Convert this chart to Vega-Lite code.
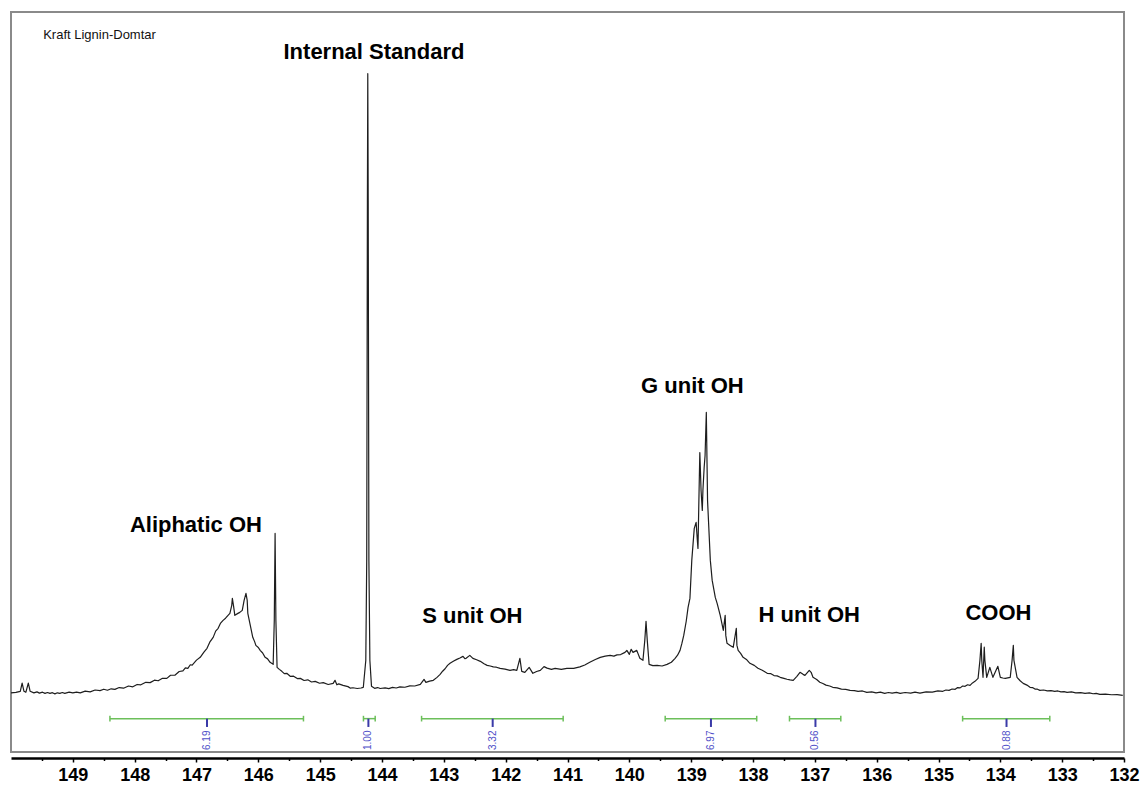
{
  "$schema": "https://vega.github.io/schema/vega-lite/v6.json",
  "width": 1113,
  "height": 740,
  "autosize": {"type": "none"},
  "padding": {"left": 11, "top": 12, "right": 18, "bottom": 35},
  "background": "white",
  "config": {
    "view": {"stroke": "#8a8a8a", "strokeWidth": 2},
    "axis": {"grid": false},
    "font": "Liberation Sans"
  },
  "datasets": {
    "spectrum": [
      {"ppm": 150.00, "i": -0.41}, {"ppm": 149.92, "i": -0.32}, {"ppm": 149.85, "i": -0.16}, {"ppm": 149.82, "i": 1.18},
      {"ppm": 149.79, "i": -0.16}, {"ppm": 149.76, "i": -0.32}, {"ppm": 149.72, "i": 1.18}, {"ppm": 149.69, "i": -0.16},
      {"ppm": 149.63, "i": -0.41}, {"ppm": 149.58, "i": -0.25}, {"ppm": 149.54, "i": -0.45}, {"ppm": 149.49, "i": -0.30},
      {"ppm": 149.45, "i": -0.49}, {"ppm": 149.41, "i": -0.35}, {"ppm": 149.37, "i": -0.50}, {"ppm": 149.33, "i": -0.38},
      {"ppm": 149.29, "i": -0.57}, {"ppm": 149.25, "i": -0.40}, {"ppm": 149.21, "i": -0.50}, {"ppm": 149.17, "i": -0.36},
      {"ppm": 149.13, "i": -0.49}, {"ppm": 149.06, "i": -0.30}, {"ppm": 149.00, "i": -0.42}, {"ppm": 148.94, "i": -0.28},
      {"ppm": 148.88, "i": -0.41}, {"ppm": 148.80, "i": -0.12}, {"ppm": 148.72, "i": -0.25}, {"ppm": 148.64, "i": 0.05},
      {"ppm": 148.56, "i": -0.05}, {"ppm": 148.50, "i": 0.18}, {"ppm": 148.44, "i": 0.02}, {"ppm": 148.38, "i": 0.25},
      {"ppm": 148.32, "i": 0.16}, {"ppm": 148.25, "i": 0.45}, {"ppm": 148.18, "i": 0.35}, {"ppm": 148.10, "i": 0.70},
      {"ppm": 148.03, "i": 0.57}, {"ppm": 147.96, "i": 0.95}, {"ppm": 147.90, "i": 0.90}, {"ppm": 147.82, "i": 1.30},
      {"ppm": 147.75, "i": 1.25}, {"ppm": 147.68, "i": 1.65}, {"ppm": 147.62, "i": 1.55}, {"ppm": 147.55, "i": 1.95},
      {"ppm": 147.48, "i": 1.94}, {"ppm": 147.42, "i": 2.45}, {"ppm": 147.35, "i": 2.45}, {"ppm": 147.28, "i": 3.05},
      {"ppm": 147.22, "i": 3.15}, {"ppm": 147.18, "i": 3.65}, {"ppm": 147.14, "i": 3.55}, {"ppm": 147.10, "i": 4.15},
      {"ppm": 147.07, "i": 4.10}, {"ppm": 147.00, "i": 4.90}, {"ppm": 146.94, "i": 5.35}, {"ppm": 146.88, "i": 6.20},
      {"ppm": 146.83, "i": 6.81}, {"ppm": 146.78, "i": 7.90}, {"ppm": 146.73, "i": 8.59}, {"ppm": 146.69, "i": 9.60},
      {"ppm": 146.65, "i": 10.05}, {"ppm": 146.61, "i": 10.90}, {"ppm": 146.57, "i": 11.35}, {"ppm": 146.53, "i": 11.70},
      {"ppm": 146.49, "i": 12.16}, {"ppm": 146.46, "i": 12.48}, {"ppm": 146.43, "i": 13.78}, {"ppm": 146.42, "i": 14.91},
      {"ppm": 146.40, "i": 13.61}, {"ppm": 146.38, "i": 12.16}, {"ppm": 146.33, "i": 12.48}, {"ppm": 146.30, "i": 12.64},
      {"ppm": 146.26, "i": 12.97}, {"ppm": 146.23, "i": 14.59}, {"ppm": 146.20, "i": 15.72}, {"ppm": 146.18, "i": 14.59},
      {"ppm": 146.17, "i": 12.48}, {"ppm": 146.13, "i": 10.53}, {"ppm": 146.09, "i": 8.59}, {"ppm": 146.06, "i": 7.90},
      {"ppm": 146.04, "i": 7.29}, {"ppm": 146.00, "i": 6.95}, {"ppm": 145.97, "i": 6.48}, {"ppm": 145.93, "i": 6.05},
      {"ppm": 145.89, "i": 5.35}, {"ppm": 145.85, "i": 5.10}, {"ppm": 145.81, "i": 4.54}, {"ppm": 145.76, "i": 4.21},
      {"ppm": 145.742, "i": 11.35}, {"ppm": 145.729, "i": 25.45}, {"ppm": 145.716, "i": 11.35}, {"ppm": 145.697, "i": 3.73},
      {"ppm": 145.66, "i": 3.40}, {"ppm": 145.62, "i": 3.08}, {"ppm": 145.58, "i": 2.70}, {"ppm": 145.54, "i": 2.76},
      {"ppm": 145.48, "i": 2.25}, {"ppm": 145.43, "i": 2.30}, {"ppm": 145.37, "i": 1.90}, {"ppm": 145.32, "i": 1.94},
      {"ppm": 145.26, "i": 1.60}, {"ppm": 145.20, "i": 1.70}, {"ppm": 145.14, "i": 1.35}, {"ppm": 145.08, "i": 1.46},
      {"ppm": 145.01, "i": 1.15}, {"ppm": 144.95, "i": 1.25}, {"ppm": 144.87, "i": 0.95}, {"ppm": 144.79, "i": 1.13},
      {"ppm": 144.76, "i": 1.62}, {"ppm": 144.73, "i": 0.90}, {"ppm": 144.70, "i": 1.05}, {"ppm": 144.63, "i": 0.80},
      {"ppm": 144.55, "i": 0.60}, {"ppm": 144.51, "i": 0.35}, {"ppm": 144.47, "i": 0.42}, {"ppm": 144.40, "i": 0.30},
      {"ppm": 144.34, "i": 0.38},
      {"ppm": 144.302, "i": 0.49}, {"ppm": 144.262, "i": 4.86}, {"ppm": 144.247, "i": 21.07}, {"ppm": 144.236, "i": 79.42},
      {"ppm": 144.230, "i": 100}, {"ppm": 144.223, "i": 79.42}, {"ppm": 144.212, "i": 21.07}, {"ppm": 144.196, "i": 4.86},
      {"ppm": 144.17, "i": 0.65}, {"ppm": 144.12, "i": 0.32}, {"ppm": 144.07, "i": 0.45}, {"ppm": 144.03, "i": 0.30},
      {"ppm": 143.95, "i": 0.40}, {"ppm": 143.89, "i": 0.28}, {"ppm": 143.83, "i": 0.48}, {"ppm": 143.77, "i": 0.38},
      {"ppm": 143.71, "i": 0.55}, {"ppm": 143.63, "i": 0.50}, {"ppm": 143.55, "i": 0.72}, {"ppm": 143.47, "i": 0.70},
      {"ppm": 143.38, "i": 0.97}, {"ppm": 143.32, "i": 1.78}, {"ppm": 143.29, "i": 1.30}, {"ppm": 143.23, "i": 1.50},
      {"ppm": 143.17, "i": 1.62}, {"ppm": 143.11, "i": 2.10}, {"ppm": 143.06, "i": 2.59}, {"ppm": 143.02, "i": 3.10},
      {"ppm": 142.98, "i": 3.50}, {"ppm": 142.94, "i": 4.05}, {"ppm": 142.90, "i": 4.38}, {"ppm": 142.84, "i": 4.75},
      {"ppm": 142.79, "i": 5.02}, {"ppm": 142.74, "i": 5.25}, {"ppm": 142.69, "i": 5.51}, {"ppm": 142.66, "i": 5.15},
      {"ppm": 142.64, "i": 5.19}, {"ppm": 142.58, "i": 5.67}, {"ppm": 142.53, "i": 5.19}, {"ppm": 142.47, "i": 4.95},
      {"ppm": 142.41, "i": 4.70}, {"ppm": 142.35, "i": 4.30}, {"ppm": 142.30, "i": 4.05}, {"ppm": 142.25, "i": 3.95},
      {"ppm": 142.20, "i": 3.80}, {"ppm": 142.15, "i": 3.75}, {"ppm": 142.09, "i": 3.57}, {"ppm": 142.01, "i": 3.45},
      {"ppm": 141.93, "i": 3.24}, {"ppm": 141.87, "i": 3.35}, {"ppm": 141.82, "i": 3.24}, {"ppm": 141.77, "i": 5.19},
      {"ppm": 141.74, "i": 3.08}, {"ppm": 141.69, "i": 2.92}, {"ppm": 141.62, "i": 3.73}, {"ppm": 141.56, "i": 2.76},
      {"ppm": 141.50, "i": 3.05}, {"ppm": 141.44, "i": 3.24}, {"ppm": 141.38, "i": 3.85}, {"ppm": 141.33, "i": 3.60},
      {"ppm": 141.26, "i": 3.40}, {"ppm": 141.20, "i": 3.57}, {"ppm": 141.10, "i": 3.40}, {"ppm": 141.01, "i": 3.57},
      {"ppm": 140.90, "i": 3.55}, {"ppm": 140.80, "i": 3.80}, {"ppm": 140.72, "i": 4.10}, {"ppm": 140.64, "i": 4.54},
      {"ppm": 140.55, "i": 5.00}, {"ppm": 140.47, "i": 5.35}, {"ppm": 140.39, "i": 5.55}, {"ppm": 140.31, "i": 5.67},
      {"ppm": 140.25, "i": 5.55}, {"ppm": 140.20, "i": 5.75}, {"ppm": 140.14, "i": 5.80}, {"ppm": 140.07, "i": 6.16},
      {"ppm": 140.04, "i": 6.48}, {"ppm": 140.00, "i": 5.83}, {"ppm": 139.97, "i": 6.65}, {"ppm": 139.94, "i": 6.16},
      {"ppm": 139.88, "i": 6.48}, {"ppm": 139.83, "i": 5.19}, {"ppm": 139.78, "i": 4.86}, {"ppm": 139.75, "i": 8.10},
      {"ppm": 139.73, "i": 11.18}, {"ppm": 139.71, "i": 8.10}, {"ppm": 139.68, "i": 4.21}, {"ppm": 139.62, "i": 4.00},
      {"ppm": 139.55, "i": 4.05}, {"ppm": 139.47, "i": 3.95}, {"ppm": 139.39, "i": 4.21}, {"ppm": 139.32, "i": 4.55},
      {"ppm": 139.26, "i": 5.19}, {"ppm": 139.22, "i": 5.70}, {"ppm": 139.18, "i": 6.48}, {"ppm": 139.15, "i": 7.60},
      {"ppm": 139.12, "i": 8.91}, {"ppm": 139.08, "i": 11.20},
      {"ppm": 139.05, "i": 13.45}, {"ppm": 139.02, "i": 14.91}, {"ppm": 138.99, "i": 21.07}, {"ppm": 138.95, "i": 26.26},
      {"ppm": 138.92, "i": 27.23}, {"ppm": 138.90, "i": 24.31}, {"ppm": 138.89, "i": 23.01}, {"ppm": 138.86, "i": 38.57},
      {"ppm": 138.84, "i": 32.41}, {"ppm": 138.82, "i": 29.17}, {"ppm": 138.81, "i": 32.41}, {"ppm": 138.79, "i": 36.14},
      {"ppm": 138.775, "i": 38.09}, {"ppm": 138.755, "i": 45.06}, {"ppm": 138.735, "i": 30.79}, {"ppm": 138.69, "i": 21.07},
      {"ppm": 138.66, "i": 17.83}, {"ppm": 138.61, "i": 15.07}, {"ppm": 138.58, "i": 14.10}, {"ppm": 138.53, "i": 12.16},
      {"ppm": 138.48, "i": 9.72}, {"ppm": 138.45, "i": 12.16}, {"ppm": 138.44, "i": 8.91}, {"ppm": 138.42, "i": 7.62},
      {"ppm": 138.37, "i": 7.29}, {"ppm": 138.32, "i": 6.97}, {"ppm": 138.27, "i": 10.05}, {"ppm": 138.26, "i": 7.29},
      {"ppm": 138.24, "i": 6.48}, {"ppm": 138.20, "i": 6.00}, {"ppm": 138.16, "i": 5.35}, {"ppm": 138.10, "i": 4.95},
      {"ppm": 138.05, "i": 4.38}, {"ppm": 137.98, "i": 4.05}, {"ppm": 137.92, "i": 3.57}, {"ppm": 137.85, "i": 3.25},
      {"ppm": 137.77, "i": 2.76}, {"ppm": 137.71, "i": 2.70}, {"ppm": 137.66, "i": 2.40}, {"ppm": 137.61, "i": 2.35},
      {"ppm": 137.56, "i": 2.11}, {"ppm": 137.50, "i": 1.95}, {"ppm": 137.45, "i": 1.80}, {"ppm": 137.40, "i": 1.70},
      {"ppm": 137.35, "i": 1.62}, {"ppm": 137.29, "i": 2.27}, {"ppm": 137.24, "i": 2.92}, {"ppm": 137.19, "i": 2.59},
      {"ppm": 137.16, "i": 2.43}, {"ppm": 137.09, "i": 3.24}, {"ppm": 137.06, "i": 2.92}, {"ppm": 137.03, "i": 2.11},
      {"ppm": 136.97, "i": 1.75}, {"ppm": 136.92, "i": 1.30}, {"ppm": 136.87, "i": 1.10}, {"ppm": 136.82, "i": 0.85},
      {"ppm": 136.76, "i": 0.70}, {"ppm": 136.71, "i": 0.49}, {"ppm": 136.64, "i": 0.40}, {"ppm": 136.57, "i": 0.20},
      {"ppm": 136.50, "i": 0.15}, {"ppm": 136.43, "i": 0.0}, {"ppm": 136.36, "i": -0.05}, {"ppm": 136.30, "i": -0.16},
      {"ppm": 136.23, "i": -0.10}, {"ppm": 136.16, "i": -0.32}, {"ppm": 136.08, "i": -0.25}, {"ppm": 136.01, "i": -0.40},
      {"ppm": 135.94, "i": -0.30}, {"ppm": 135.87, "i": -0.49}, {"ppm": 135.81, "i": -0.35}, {"ppm": 135.75, "i": -0.45},
      {"ppm": 135.68, "i": -0.32}, {"ppm": 135.62, "i": -0.49}, {"ppm": 135.54, "i": -0.35}, {"ppm": 135.45, "i": -0.45},
      {"ppm": 135.38, "i": -0.30}, {"ppm": 135.30, "i": -0.45}, {"ppm": 135.20, "i": -0.25}, {"ppm": 135.10, "i": -0.30},
      {"ppm": 135.01, "i": -0.10}, {"ppm": 134.93, "i": -0.16}, {"ppm": 134.88, "i": 0.05}, {"ppm": 134.83, "i": 0.0},
      {"ppm": 134.78, "i": 0.22}, {"ppm": 134.73, "i": 0.16}, {"ppm": 134.69, "i": 0.45}, {"ppm": 134.65, "i": 0.40},
      {"ppm": 134.61, "i": 0.70}, {"ppm": 134.57, "i": 0.65}, {"ppm": 134.53, "i": 0.90}, {"ppm": 134.49, "i": 0.81},
      {"ppm": 134.45, "i": 1.20}, {"ppm": 134.41, "i": 1.46}, {"ppm": 134.36, "i": 1.94}, {"ppm": 134.33, "i": 4.86},
      {"ppm": 134.31, "i": 7.62}, {"ppm": 134.30, "i": 4.86}, {"ppm": 134.28, "i": 2.11}, {"ppm": 134.26, "i": 7.0},
      {"ppm": 134.25, "i": 4.86}, {"ppm": 134.22, "i": 2.11}, {"ppm": 134.17, "i": 3.73}, {"ppm": 134.12, "i": 2.11},
      {"ppm": 134.04, "i": 3.89}, {"ppm": 134.00, "i": 2.11}, {"ppm": 133.96, "i": 2.00}, {"ppm": 133.92, "i": 1.94},
      {"ppm": 133.84, "i": 2.11}, {"ppm": 133.81, "i": 4.86}, {"ppm": 133.79, "i": 7.29}, {"ppm": 133.78, "i": 4.86},
      {"ppm": 133.73, "i": 2.11}, {"ppm": 133.68, "i": 1.55}, {"ppm": 133.63, "i": 1.13}, {"ppm": 133.57, "i": 0.85},
      {"ppm": 133.52, "i": 0.49}, {"ppm": 133.48, "i": 0.45}, {"ppm": 133.44, "i": 0.20}, {"ppm": 133.40, "i": 0.18},
      {"ppm": 133.36, "i": 0.0}, {"ppm": 133.30, "i": 0.05}, {"ppm": 133.24, "i": -0.10}, {"ppm": 133.18, "i": -0.05},
      {"ppm": 133.12, "i": -0.16}, {"ppm": 133.07, "i": -0.10}, {"ppm": 133.02, "i": -0.25}, {"ppm": 132.97, "i": -0.20},
      {"ppm": 132.92, "i": -0.32}, {"ppm": 132.85, "i": -0.25}, {"ppm": 132.78, "i": -0.40}, {"ppm": 132.70, "i": -0.38},
      {"ppm": 132.63, "i": -0.49}, {"ppm": 132.56, "i": -0.42}, {"ppm": 132.50, "i": -0.55}, {"ppm": 132.45, "i": -0.50},
      {"ppm": 132.39, "i": -0.65}, {"ppm": 132.30, "i": -0.60}, {"ppm": 132.20, "i": -0.72}, {"ppm": 132.11, "i": -0.70},
      {"ppm": 132.02, "i": -0.81}
    ],
    "integrals": [
      {"value": "6.19", "from": 148.40, "to": 145.27, "mid": 146.83},
      {"value": "1.00", "from": 144.30, "to": 144.11, "mid": 144.22},
      {"value": "3.32", "from": 143.36, "to": 141.07, "mid": 142.21},
      {"value": "6.97", "from": 139.42, "to": 137.94, "mid": 138.68},
      {"value": "0.56", "from": 137.41, "to": 136.58, "mid": 136.99},
      {"value": "0.88", "from": 134.61, "to": 133.20, "mid": 133.90}
    ],
    "labels": [
      {"text": "Internal Standard", "ppm": 144.13, "i": 102.4},
      {"text": "Aliphatic OH", "ppm": 147.01, "i": 25.66},
      {"text": "S unit OH", "ppm": 142.54, "i": 10.9},
      {"text": "G unit OH", "ppm": 138.98, "i": 48.2},
      {"text": "H unit OH", "ppm": 137.09, "i": 11.07},
      {"text": "COOH", "ppm": 134.03, "i": 11.46}
    ],
    "title": [
      {"text": "Kraft Lignin-Domtar", "ppm": 149.48, "i": 105.6}
    ]
  },
  "resolve": {"axis": {"x": "independent"}},
  "layer": [
    {
      "data": {"name": "spectrum"},
      "mark": {"type": "line", "color": "#1e1e1e", "strokeWidth": 1.2, "strokeJoin": "round"},
      "encoding": {
        "x": {
          "field": "ppm", "type": "quantitative",
          "scale": {"domain": [132, 150], "reverse": true, "nice": false, "zero": false},
          "axis": {
            "orient": "bottom",
            "title": null,
            "values": [132, 133, 134, 135, 136, 137, 138, 139, 140, 141, 142, 143, 144, 145, 146, 147, 148, 149],
            "format": "d",
            "offset": 6,
            "domainColor": "#000000", "domainWidth": 2.5,
            "tickColor": "#000000", "tickWidth": 1.5, "tickSize": 4,
            "labelFont": "Liberation Sans", "labelFontSize": 18, "labelFontWeight": "bold",
            "labelColor": "#000000", "labelPadding": 4, "labelFlush": false, "labelOverlap": false
          }
        },
        "y": {
          "field": "i", "type": "quantitative",
          "scale": {"domain": [-10, 110], "nice": false, "zero": false},
          "axis": null
        }
      }
    },
    {
      "data": {"name": "integrals"},
      "mark": {"type": "rule", "color": "#6cbf5a", "strokeWidth": 1.5},
      "encoding": {
        "x": {
          "field": "from", "type": "quantitative",
          "axis": {
            "orient": "bottom",
            "title": null,
            "values": [132.5, 133.5, 134.5, 135.5, 136.5, 137.5, 138.5, 139.5, 140.5, 141.5, 142.5, 143.5, 144.5, 145.5, 146.5, 147.5, 148.5, 149.5],
            "labels": false, "domain": false, "offset": 6,
            "tickColor": "#000000", "tickWidth": 1.5, "tickSize": 2.5
          }
        },
        "x2": {"field": "to"},
        "y": {"datum": -4.59}
      }
    },
    {
      "data": {"name": "integrals"},
      "mark": {"type": "rule", "color": "#6cbf5a", "strokeWidth": 1.5},
      "encoding": {
        "x": {"field": "from", "type": "quantitative", "axis": null},
        "y": {"datum": -4.13},
        "y2": {"datum": -5.05}
      }
    },
    {
      "data": {"name": "integrals"},
      "mark": {"type": "rule", "color": "#6cbf5a", "strokeWidth": 1.5},
      "encoding": {
        "x": {"field": "to", "type": "quantitative", "axis": null},
        "y": {"datum": -4.13},
        "y2": {"datum": -5.05}
      }
    },
    {
      "data": {"name": "integrals"},
      "mark": {"type": "rule", "color": "#3a3aa8", "strokeWidth": 2},
      "encoding": {
        "x": {"field": "mid", "type": "quantitative", "axis": null},
        "y": {"datum": -4.59},
        "y2": {"datum": -5.94}
      }
    },
    {
      "data": {"name": "integrals"},
      "mark": {"type": "text", "color": "#5050c8", "fontSize": 10, "font": "Liberation Sans", "angle": 270, "align": "center", "baseline": "middle"},
      "encoding": {
        "x": {"field": "mid", "type": "quantitative", "axis": null},
        "y": {"datum": -8.1},
        "text": {"field": "value"}
      }
    },
    {
      "data": {"name": "labels"},
      "mark": {"type": "text", "color": "#000000", "fontSize": 22, "fontWeight": "bold", "font": "Liberation Sans", "align": "center", "baseline": "alphabetic"},
      "encoding": {
        "x": {"field": "ppm", "type": "quantitative", "axis": null},
        "y": {"field": "i", "type": "quantitative"},
        "text": {"field": "text"}
      }
    },
    {
      "data": {"name": "title"},
      "mark": {"type": "text", "color": "#111111", "fontSize": 13, "font": "Liberation Sans", "align": "left", "baseline": "alphabetic"},
      "encoding": {
        "x": {"field": "ppm", "type": "quantitative", "axis": null},
        "y": {"field": "i", "type": "quantitative"},
        "text": {"field": "text"}
      }
    },
    {
      "mark": {"type": "rule", "color": "#000000", "strokeWidth": 2.2},
      "encoding": {
        "y": {"datum": -10}
      }
    }
  ]
}
